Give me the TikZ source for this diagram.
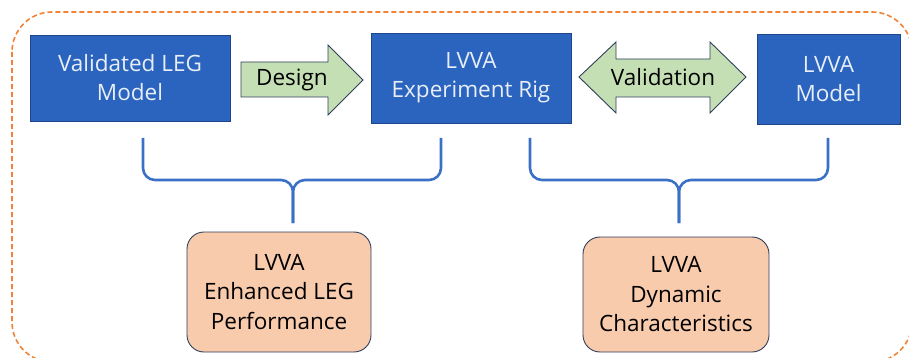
\documentclass[tikz,border=0pt]{standalone}
\usepackage{fontspec}
\setmainfont{Open Sans}
\usepackage{tikz}

\definecolor{boxBlue}{RGB}{43,100,190}
\definecolor{boxEdge}{RGB}{30,70,140}
\definecolor{boxText}{RGB}{232,238,247}
\definecolor{arrowGreen}{RGB}{197,223,180}
\definecolor{edgeNavy}{RGB}{47,62,92}
\definecolor{resultOrange}{RGB}{248,203,173}
\definecolor{frameOrange}{RGB}{240,130,55}
\definecolor{braceBlue}{RGB}{58,112,198}

\begin{document}
\begin{tikzpicture}
[x=1pt,y=-1pt,
  frameDecorate/.style={draw=frameOrange,line width=1.6pt,dash pattern=on 5pt off 3pt,rounded corners=40pt},%
  blueDecorate/.style={shape=rectangle,draw=boxEdge,line width=0.8pt,fill=boxBlue,text=boxText,align=center,inner sep=0pt,font=\fontsize{22.5}{29}\selectfont},%
  orangeDecorate/.style={shape=rectangle,rounded corners=17pt,draw=edgeNavy,line width=0.9pt,fill=resultOrange,align=center,inner sep=0pt,font=\fontsize{22.5}{29.5}\selectfont},%
  arrowDecorate/.style={draw=edgeNavy,line width=0.9pt,fill=arrowGreen,line join=miter},%
  labelDecorate/.style={inner sep=0pt,font=\fontsize{22.5}{26}\selectfont},%
  braceDecorate/.style={draw=braceBlue,line width=2.6pt,rounded corners=12pt}]
\useasboundingbox (0,0) rectangle (909,358);
%% dashed frame
\begin{scope}
\clip (0,0) rectangle (909,358);
\draw[frameDecorate] (12,12) rectangle (912,362);
\end{scope}
%% top boxes
\foreach \nodename/\x/\y/\w/\h/\txt in {valid/130/78/200/86/{Validated LEG\\Model},
  rig/471/78/200/90/{LVVA\\Experiment Rig},
  model/828.5/79/143/90/{LVVA\\Model}}
{
  \node (\nodename) at (\x,\y) [blueDecorate,minimum width=\w pt,minimum height=\h pt] {\txt};
}
%% block arrows
\draw[arrowDecorate] (241,62) -- (328,62) -- (328,45) -- (363,80) -- (328,115)
  -- (328,97) -- (241,97) -- cycle;
\node (design) at (292,80) [labelDecorate] {Design};
\draw[arrowDecorate] (579,77) -- (616,42) -- (616,59) -- (710,59) -- (710,42)
  -- (746,77) -- (710,113) -- (710,97) -- (616,97) -- (616,113) -- cycle;
\node (validation) at (663,77) [labelDecorate] {Validation};
%% result boxes
\foreach \nodename/\x/\y/\w/\h/\txt in {perf/279/292/184/120/{LVVA\\Enhanced LEG\\Performance},
  dyn/676/294.5/186/115/{LVVA\\Dynamic\\Characteristics}}
{
  \node (\nodename) at (\x,\y) [orangeDecorate,minimum width=\w pt,minimum height=\h pt] {\txt};
}
%% braces
\foreach \bname/\l/\m/\r in {left/143/293/441, right/530/679/828}
{
  \coordinate (\bname L) at (\l,138);
  \coordinate (\bname R) at (\r,138);
  \coordinate (\bname M) at (\m,180);
  \coordinate (\bname T) at (\m,223);
  \draw[braceDecorate] (\bname L) |- (\bname M) -- (\bname T);
  \draw[braceDecorate] (\bname R) |- (\bname M) -- (\bname T);
}
\end{tikzpicture}
\end{document}
